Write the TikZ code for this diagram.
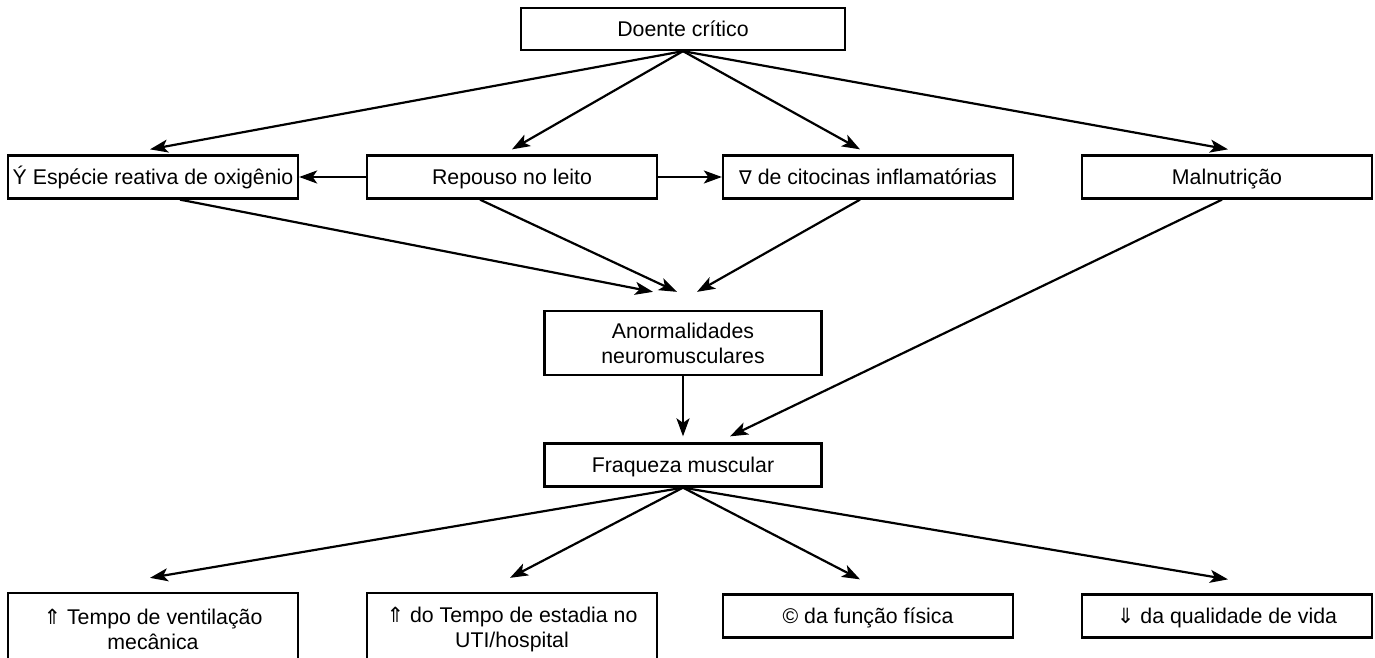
\documentclass[tikz,border=0pt]{standalone}
\usepackage{fontspec}
\setmainfont{Liberation Sans}
\newfontfamily\symf{DejaVu Sans}
\usetikzlibrary{arrows.meta}
\begin{document}
\begin{tikzpicture}[x=1pt,y=-1pt,
  box/.style={draw, line width=2.3pt, inner sep=0pt, align=center,
    font=\fontsize{21.3}{25}\selectfont},
  oneline/.style={text height=18pt, text depth=2.8pt},
  arr/.style={line width=2.2pt, -{Stealth[length=18pt,width=13pt,inset=4.5pt]}}]
\useasboundingbox (0,0) rectangle (1375,658);
\clip (0,0) rectangle (1375,658);
\node[box, oneline, minimum width=324pt, minimum height=42pt] (doente) at (683,29) {Doente crítico};
\node[box, oneline, minimum width=290pt, minimum height=43pt] (esp) at (153,177) {Ý Espécie reativa de oxigênio};
\node[box, oneline, minimum width=290pt, minimum height=43pt] (rep) at (512,177) {Repouso no leito};
\node[box, oneline, minimum width=290pt, minimum height=43pt] (cit) at (868,177) {{\symf\fontsize{19}{20}\selectfont ∇} de citocinas inflamatórias};
\node[box, oneline, minimum width=290pt, minimum height=43pt] (mal) at (1227,177) {Malnutrição};
\node[box, minimum width=277pt, minimum height=64pt] (anorm) at (683,343) {Anormalidades\\neuromusculares};
\node[box, oneline, minimum width=277pt, minimum height=43pt] (fraq) at (683,465) {Fraqueza muscular};
\node[box, minimum width=290pt, minimum height=72pt] (b1) at (153,629) {{\symf\fontsize{21}{20}\selectfont ⇑} Tempo de ventilação\\mecânica};
\node[box, minimum width=290pt, minimum height=72pt] (b2) at (512,629) {{\symf\fontsize{21}{20}\selectfont ⇑} do Tempo de estadia no\\UTI/hospital};
\node[box, oneline, minimum width=290pt, minimum height=43pt] (b3) at (868,616) {© da função física};
\node[box, oneline, minimum width=290pt, minimum height=43pt] (b4) at (1227,616) {{\symf\fontsize{21}{20}\selectfont ⇓} da qualidade de vida};
% top arrows
\draw[arr] (doente.south) -- ([xshift=-3pt,yshift=5pt]esp.north);
\draw[arr] (doente.south) -- ([xshift=0pt,yshift=5pt]rep.north);
\draw[arr] (doente.south) -- ([xshift=-8pt,yshift=5pt]cit.north);
\draw[arr] (doente.south) -- ([xshift=1pt,yshift=5pt]mal.north);
% horizontal
\draw[arr] (rep.west) -- (esp.east);
\draw[arr] (rep.east) -- (cit.west);
% converging
\draw[arr] ([xshift=27pt]esp.south) -- ([xshift=-30pt,yshift=18pt]anorm.north);
\draw[arr] ([xshift=-32pt]rep.south) -- ([xshift=-6pt,yshift=18pt]anorm.north);
\draw[arr] ([xshift=-8pt]cit.south) -- ([xshift=14pt,yshift=18pt]anorm.north);
\draw[arr] (anorm.south) -- ([yshift=6pt]fraq.north);
\draw[arr] ([xshift=-5pt]mal.south) -- ([xshift=47pt,yshift=6pt]fraq.north);
% bottom arrows
\draw[arr] (fraq.south) -- ([xshift=-3pt,yshift=14pt]b1.north);
\draw[arr] (fraq.south) -- ([xshift=-2pt,yshift=14pt]b2.north);
\draw[arr] (fraq.south) -- ([xshift=-8pt,yshift=14pt]b3.north);
\draw[arr] (fraq.south) -- ([xshift=1pt,yshift=14pt]b4.north);
\end{tikzpicture}
\end{document}
